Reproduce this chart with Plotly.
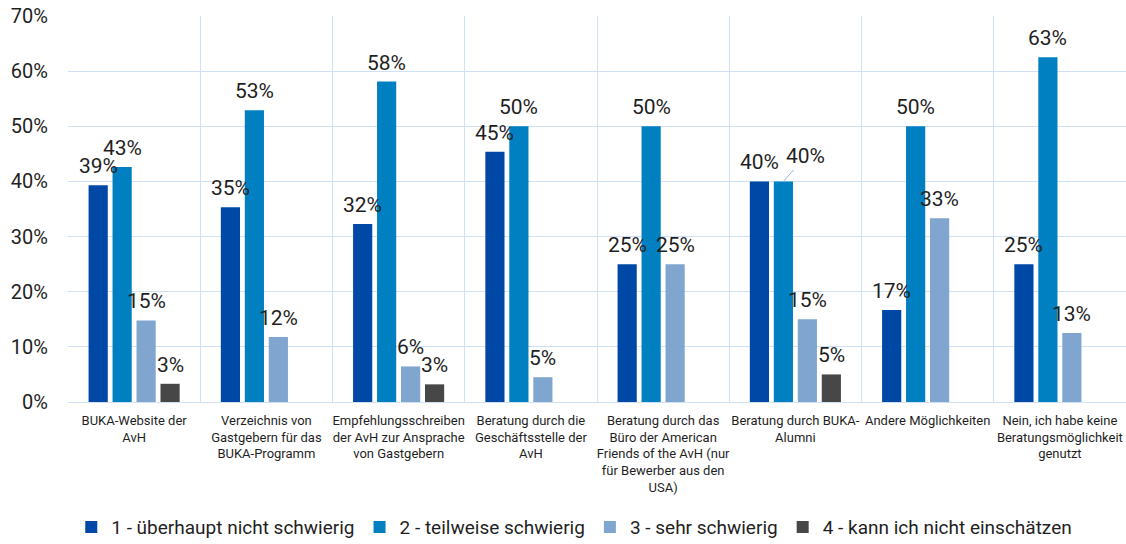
import math
import plotly.graph_objects as go

categories = [
    "BUKA-Website der<br>AvH",
    "Verzeichnis von<br>Gastgebern für das<br>BUKA-Programm",
    "Empfehlungsschreiben<br>der AvH zur Ansprache<br>von Gastgebern",
    "Beratung durch die<br>Geschäftsstelle der<br>AvH",
    "Beratung durch das<br>Büro der American<br>Friends of the AvH (nur<br>für Bewerber aus den<br>USA)",
    "Beratung durch BUKA-<br>Alumni",
    "Andere Möglichkeiten",
    "Nein, ich habe keine<br>Beratungsmöglichkeit<br>genutzt",
]

series_names = [
    "1 - überhaupt nicht schwierig",
    "2 - teilweise schwierig",
    "3 - sehr schwierig",
    "4 - kann ich nicht einschätzen",
]

# percent of respondents per category
s1_values = [39.3, 35.3, 32.3, 45.4, 25.0, 40.0, 16.7, 25.0]
s2_values = [42.6, 52.9, 58.1, 50.0, 50.0, 40.0, 50.0, 62.5]
s3_values = [14.8, 11.8, 6.45, 4.5, 25.0, 15.0, 33.3, 12.5]
s4_values = [3.3, None, 3.2, None, None, 5.0, None, None]

colors = ["#0048A6", "#0080C0", "#80A6CF", "#474747"]
y_ticks = [0, 10, 20, 30, 40, 50, 60, 70]

# labels drawn with a leader line instead of directly on the bar: (series index, category index)
callouts = [(1, 5)]

FONT = "Roboto, Liberation Sans, sans-serif"
TEXT_COLOR = "#1F1F1F"
GRID = "#D0E0F5"
SLOT_PX = 24  # horizontal distance between neighbouring bars of a group


def pct(v):
    # round half up, as the labels are shown in the report
    return f"{math.floor(v + 0.5):d}%"


fig = go.Figure()
all_values = [s1_values, s2_values, s3_values, s4_values]
n_series = len(all_values)
for name, vals, col in zip(series_names, all_values, colors):
    fig.add_trace(go.Bar(
        x=categories,
        y=vals,
        name=name,
        marker=dict(color=col, line=dict(width=0)),
    ))

# value labels above each bar
for si, vals in enumerate(all_values):
    offset = (si - (n_series - 1) / 2) * SLOT_PX
    for ci, v in enumerate(vals):
        if v is None:
            continue
        if (si, ci) in callouts:
            fig.add_annotation(
                x=categories[ci], y=v, xref="x", yref="y",
                xshift=offset,
                text=pct(v),
                showarrow=True, arrowhead=0, arrowwidth=1, arrowcolor="#8DB4E8",
                ax=22, ay=-25, standoff=0,
                font=dict(family=FONT, size=21, color=TEXT_COLOR),
            )
        else:
            fig.add_annotation(
                x=categories[ci], y=v, xref="x", yref="y",
                xshift=offset, yshift=5,
                text=pct(v),
                showarrow=False,
                yanchor="bottom",
                font=dict(family=FONT, size=21, color=TEXT_COLOR),
            )

fig.update_layout(
    width=1126,
    height=544,
    margin=dict(l=68, r=0, t=16, b=142, autoexpand=False),
    paper_bgcolor="white",
    plot_bgcolor="white",
    barmode="group",
    bargap=0.275,
    bargroupgap=0.2,
    font=dict(family=FONT, color=TEXT_COLOR),
    xaxis=dict(
        type="category",
        tickson="boundaries",
        showgrid=True,
        gridcolor=GRID,
        gridwidth=1,
        showline=True,
        linecolor=GRID,
        ticks="",
        tickangle=0,
        automargin=False,
        ticklabelstandoff=6,
        tickfont=dict(family=FONT, size=13, color=TEXT_COLOR),
    ),
    yaxis=dict(
        range=[0, 70],
        tickvals=y_ticks,
        ticktext=[f"{v}%" for v in y_ticks],
        showgrid=True,
        gridcolor=GRID,
        gridwidth=1,
        zeroline=False,
        ticks="",
        automargin=False,
        ticklabelstandoff=19,
        tickfont=dict(family=FONT, size=20, color=TEXT_COLOR),
    ),
    legend=dict(
        orientation="h",
        xref="container",
        yref="container",
        x=0.51,
        xanchor="center",
        y=0.031,
        yanchor="middle",
        font=dict(family=FONT, size=19, color=TEXT_COLOR),
        itemwidth=30,
        tracegroupgap=0,
    ),
    showlegend=True,
)

fig.write_html("out.html")
